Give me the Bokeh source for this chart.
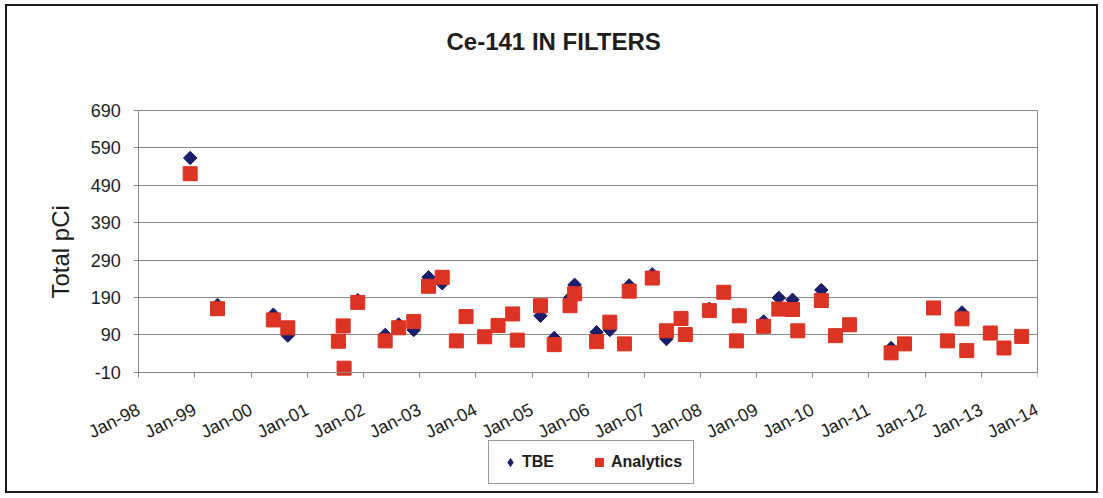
from datetime import datetime
from bokeh.plotting import figure
from bokeh.models import (Range1d, FixedTicker, DatetimeTickFormatter, Legend, LegendItem,
                          ColumnDataSource, LinearAxis, Title)
from bokeh.embed import file_html
from bokeh.resources import INLINE

# ---------------- data ----------------
title_text = "Ce-141 IN FILTERS"
y_label = "Total pCi"
series_names = ["TBE", "Analytics"]

dates = ["1998-12-01", "1999-05-28", "2000-05-25", "2000-08-27", "2001-07-22",
         "2001-08-22", "2001-08-28", "2001-11-25", "2002-05-22", "2002-08-18",
         "2002-11-24", "2003-02-28", "2003-05-28", "2003-08-28", "2003-10-30",
         "2004-02-28", "2004-05-25", "2004-08-28", "2004-09-27", "2005-02-25",
         "2005-05-25", "2005-09-05", "2005-10-05", "2006-02-25", "2006-05-22",
         "2006-08-25", "2006-09-25", "2007-02-22", "2007-05-25", "2007-08-28",
         "2007-09-25", "2008-02-28", "2008-06-01", "2008-08-22", "2008-09-10",
         "2009-02-15", "2009-05-25", "2009-08-22", "2009-09-25", "2010-02-25",
         "2010-05-28", "2010-08-28", "2011-05-25", "2011-08-20", "2012-02-25",
         "2012-05-25", "2012-08-28", "2012-09-28", "2013-02-28", "2013-05-28",
         "2013-09-20"]

tbe = [563, 170, 144, 88, 73, 114, 1, 183, 90, 118,
       103, 244, 228, 74, 139, 85, 115, 146, 76, 141,
       82, 189, 224, 97, 103, 66, 222, 252, 79, 134,
       91, 160, 204, 74, 144, 126, 189, 184, 101, 210,
       88, 117, 55, 66, 162, 74, 150, 48, 95, 55,
       86]

analytics = [521, 160, 130, 109, 73, 114, 1, 177, 74, 109,
             126, 220, 244, 74, 139, 85, 115, 146, 76, 168,
             64, 168, 200, 72, 124, 66, 207, 242, 101, 134,
             91, 155, 204, 74, 141, 113, 159, 158, 101, 182,
             88, 117, 42, 66, 162, 74, 133, 48, 95, 55,
             86]

y_ticks = [-10, 90, 190, 290, 390, 490, 590, 690]
x_tick_years = list(range(1998, 2015))

# ---------------- styling / geometry ----------------
NAVY = "#1b1f6b"
RED = "#dc3323"
GRID = "#8a8a8a"
TEXT = "#1e1e1e"
FONT = "Liberation Sans"

W, H = 1093, 489
FRAME_TOP = 94        # frame starts a little above the top gridline (room for its label)
TOP_PX = 104          # canvas y of the top gridline
AXIS_PX = 365.8       # canvas y of the x axis line
BOTTOM_BORDER = 4     # frame extended down so the legend sits inside it
FRAME_LEFT = 70       # frame extended left so the first rotated label is inside it
Y_AXIS_PX = 131.3     # canvas x of the y axis line
RIGHT_BORDER = 63

epoch = datetime(1970, 1, 1)
def ms(dt):
    return (dt - epoch).total_seconds() * 1000.0

x_ticks_ms = [ms(datetime(yr, 1, 1)) for yr in x_tick_years]
x_first, x_last = x_ticks_ms[0], x_ticks_ms[-1]

frame_bottom_px = H - BOTTOM_BORDER
units_per_px = (y_ticks[-1] - y_ticks[0]) / (AXIS_PX - TOP_PX)
y_start = y_ticks[-1] - (frame_bottom_px - TOP_PX) * units_per_px
y_end = y_ticks[-1] + (TOP_PX - FRAME_TOP) * units_per_px

ms_per_px = (x_last - x_first) / ((W - RIGHT_BORDER) - Y_AXIS_PX)
x_start = x_first - (Y_AXIS_PX - FRAME_LEFT) * ms_per_px

x = [datetime.strptime(d, "%Y-%m-%d") for d in dates]
src = ColumnDataSource(dict(x=x, tbe=tbe, analytics=analytics))

p = figure(width=W, height=H, x_axis_type="datetime",
           output_backend="svg", toolbar_location=None,
           x_range=Range1d(x_start, x_last),
           y_range=Range1d(y_start, y_end),
           min_border_left=FRAME_LEFT, min_border_right=RIGHT_BORDER,
           min_border_top=FRAME_TOP, min_border_bottom=BOTTOM_BORDER)

p.styles = {"border": "2px solid #1a1a1a", "margin-left": "5px", "margin-top": "4px"}
p.background_fill_color = "white"
p.border_fill_color = "white"
p.outline_line_color = None

# title (trailing blank line keeps the title high above the plot area)
p.title.text = title_text + "\n"
p.title.align = "left"
p.title.offset = 369
p.title.vertical_align = "top"
p.title.standoff = 33
p.title.text_font = FONT
p.title.text_font_style = "bold"
p.title.text_font_size = "24px"
p.title.text_color = TEXT

# grids: horizontal lines only across the plot area
p.xgrid.grid_line_color = None
p.ygrid.grid_line_color = GRID
p.ygrid.grid_line_width = 1
p.ygrid.cross_bounds = (x_first, x_last)

# y axis, drawn at the first tick date
p.yaxis.fixed_location = x_first
p.yaxis.ticker = FixedTicker(ticks=y_ticks)
p.yaxis.bounds = (y_ticks[0], y_ticks[-1])
p.yaxis.major_label_overrides = {t: str(t) for t in y_ticks}
p.yaxis.major_label_text_font = FONT
p.yaxis.major_label_text_font_size = "18px"
p.yaxis.major_label_text_color = TEXT
p.yaxis.major_label_standoff = 13
p.yaxis.major_tick_out = 5
p.yaxis.major_tick_in = 0
p.yaxis.minor_tick_line_color = None
p.yaxis.axis_line_color = GRID
p.yaxis.major_tick_line_color = GRID

# y axis title as a side title so it can sit level with the plot area
ytitle = Title(text=y_label, align="left", offset=193, vertical_align="bottom",
               standoff=8, text_font=FONT, text_font_style="normal",
               text_font_size="24px", text_color=TEXT)
p.add_layout(ytitle, "left")

# right edge of the plot area
right_axis = LinearAxis(ticker=FixedTicker(ticks=[]), bounds=(y_ticks[0], y_ticks[-1]),
                        axis_line_color=GRID, major_tick_line_color=None,
                        minor_tick_line_color=None)
p.add_layout(right_axis, "right")

# x axis, drawn at the bottom of the plot area
fmt = "%b-%y"
p.xaxis.fixed_location = y_ticks[0]
p.xaxis.bounds = (x_first, x_last)
p.xaxis.ticker = FixedTicker(ticks=x_ticks_ms)
p.xaxis.formatter = DatetimeTickFormatter(
    microseconds=fmt, milliseconds=fmt, seconds=fmt, minsec=fmt, minutes=fmt,
    hourmin=fmt, hours=fmt, days=fmt, months=fmt, years=fmt)
p.xaxis.major_label_orientation = 0.47
p.xaxis.major_label_standoff = 31
p.xaxis.major_label_text_font = FONT
p.xaxis.major_label_text_font_size = "18px"
p.xaxis.major_label_text_color = TEXT
p.xaxis.major_tick_out = 5
p.xaxis.major_tick_in = 0
p.xaxis.minor_tick_line_color = None
p.xaxis.axis_line_color = GRID
p.xaxis.major_tick_line_color = GRID

# data
r_tbe = p.scatter("x", "tbe", source=src, marker="square", angle=0.785398,
                  size=9.5, fill_color=NAVY, line_color=NAVY)
r_an = p.scatter("x", "analytics", source=src, marker="square", size=14,
                 fill_color=RED, line_color=RED)

# diamond-shaped legend proxy for TBE (zero size in the plot itself)
r_tbe_leg = p.scatter("x", "tbe", source=src, marker="diamond", size=0,
                      fill_color=NAVY, line_color=NAVY)

legend = Legend(items=[LegendItem(label=series_names[0], renderers=[r_tbe_leg]),
                       LegendItem(label=series_names[1], renderers=[r_an])],
                location=(481 - FRAME_LEFT, 7), orientation="horizontal",
                padding=11, spacing=35, margin=0,
                glyph_width=20, glyph_height=20, label_standoff=2,
                label_text_font=FONT, label_text_font_style="bold",
                label_text_font_size="16px", label_text_color=TEXT,
                border_line_color="#333333", border_line_width=1,
                background_fill_color="white", background_fill_alpha=1.0)
p.add_layout(legend)

open("out.html", "w").write(file_html(p, INLINE))
